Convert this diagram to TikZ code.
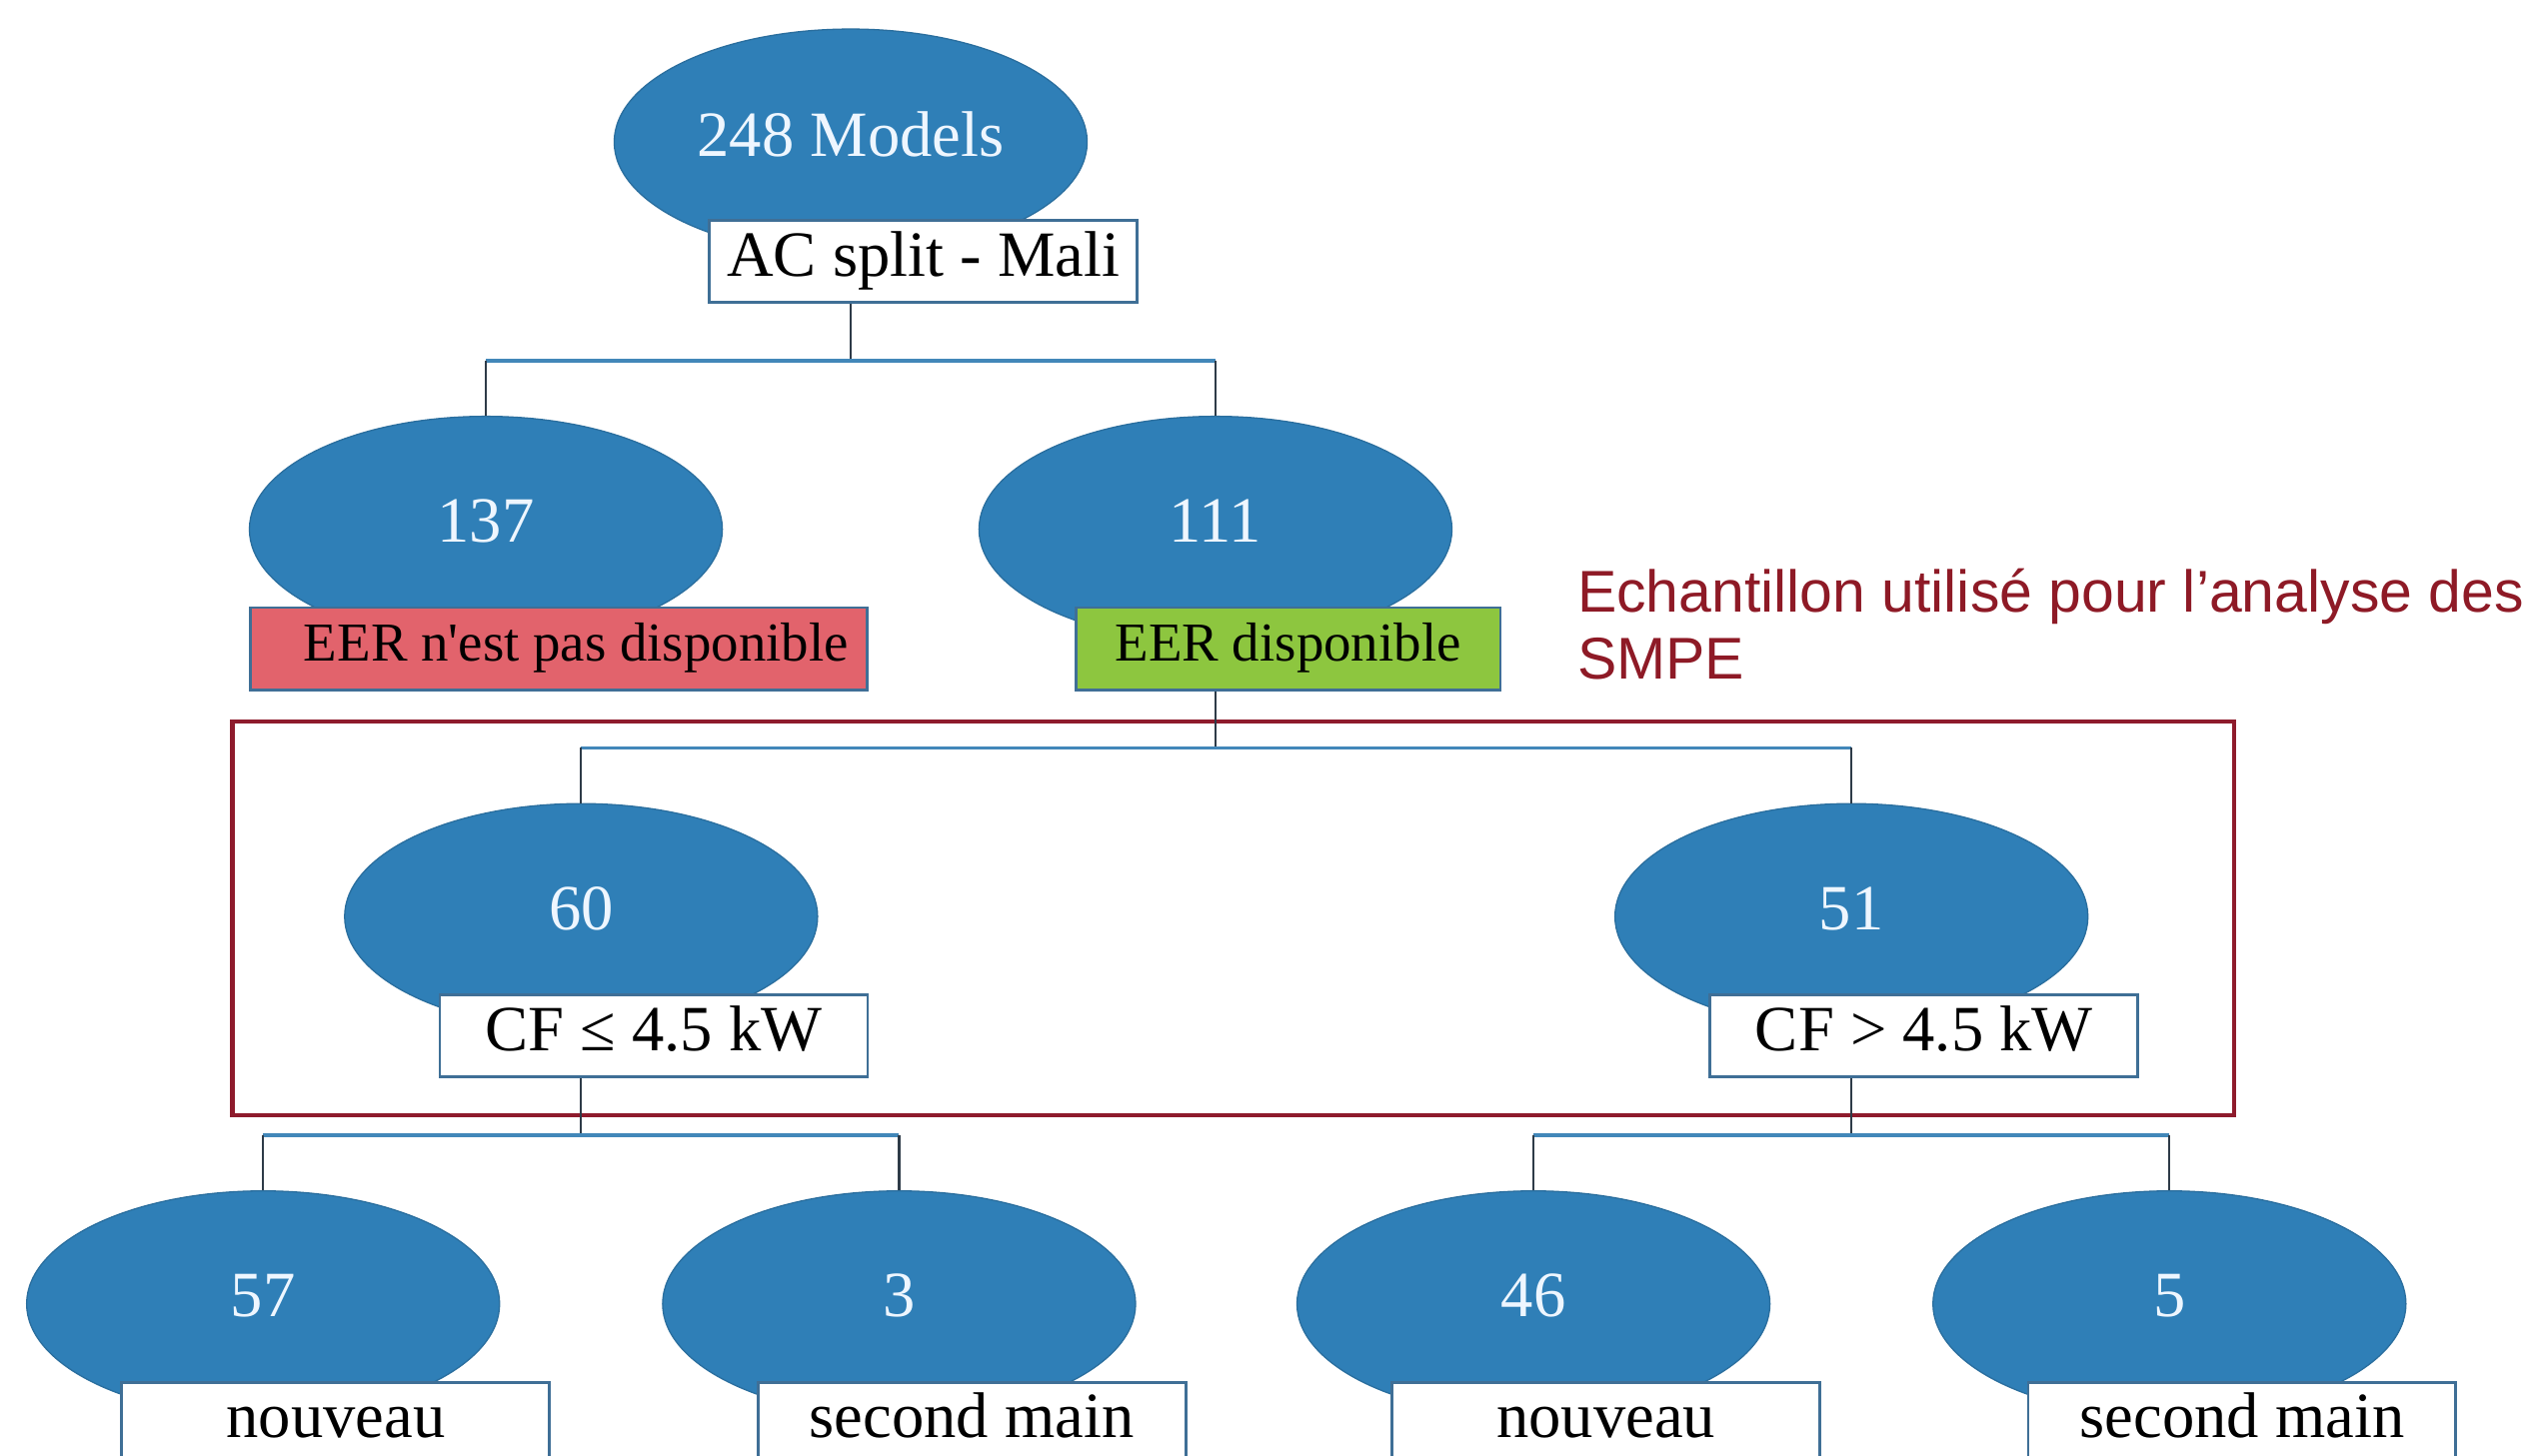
\documentclass[tikz,border=0pt]{standalone}
\usepackage{fontspec}
\setmainfont{Liberation Serif}
\newfontfamily\notefont{Liberation Sans}
\usetikzlibrary{shapes.geometric}

\definecolor{blobblue}{HTML}{2F7FB7}
\definecolor{blobedge}{HTML}{2A6E9E}
\definecolor{numwhite}{HTML}{EEF6FF}
\definecolor{tagedge}{HTML}{3F6F96}
\definecolor{tagred}{HTML}{E2636C}
\definecolor{taggreen}{HTML}{8DC63F}
\definecolor{stemgrey}{HTML}{2E3B48}
\definecolor{barblue}{HTML}{4287B9}
\definecolor{framered}{HTML}{8E1B2C}
\definecolor{notered}{HTML}{8E1A26}

\begin{document}
\begin{tikzpicture}[x=1pt,y=-1pt,
  blob/.style={ellipse, fill=blobblue, draw=blobedge, line width=0.8pt,
    minimum width=293pt, minimum height=140pt, inner sep=0pt},
  num/.style={text=numwhite, inner sep=0pt, font=\fontsize{40}{48}\selectfont},
  tag/.style={rectangle, draw=tagedge, line width=1.8pt, fill=white,
    minimum width=265pt, minimum height=51pt, inner sep=0pt,
    font=\fontsize{40}{48}\selectfont, text height=27pt, text depth=9pt},
  smalltag/.style={font=\fontsize{34}{40}\selectfont, text height=23pt, text depth=8pt},
  stem/.style={draw=stemgrey, line width=1.4pt},
  bar/.style={draw=barblue, line width=2.2pt},
  frame/.style={draw=framered, line width=2.6pt},
  note/.style={text=notered, inner sep=0pt, align=left,
    font=\notefont\fontsize{36.5}{42}\selectfont},
]
\useasboundingbox[fill=white] (0,0) rectangle (1568,902);

% level 0
\node[blob, label={[num, yshift=5pt]center:248 Models}] (a) at (527,88) {};
\node[tag] (ta) at ([shift={(45,74)}]a.center) {AC split - Mali};

% level 1
\node[blob, label={[num, yshift=5pt]center:137}] (b1) at (301,328) {};
\node[tag, smalltag, fill=tagred, minimum width=382pt] (tb1) at ([shift={(45,74)}]b1.center)
  {\hspace{22pt}EER n\textquotesingle est pas disponible};
\node[blob, label={[num, yshift=5pt]center:111}] (b2) at (753,328) {};
\node[tag, smalltag, fill=taggreen, minimum width=263pt] (tb2) at ([shift={(45,74)}]b2.center) {EER disponible};

% level 2
\node[blob, label={[num, yshift=5pt]center:60}] (c1) at (360,568) {};
\node[tag] (tc1) at ([shift={(45,74)}]c1.center) {CF ≤ 4.5 kW};
\node[blob, label={[num, yshift=5pt]center:51}] (c2) at (1147,568) {};
\node[tag] (tc2) at ([shift={(45,74)}]c2.center) {CF > 4.5 kW};

% level 3
\node[blob, label={[num, yshift=5pt]center:57}] (d1) at (163,808) {};
\node[tag] (td1) at ([shift={(45,74)}]d1.center) {nouveau};
\node[blob, label={[num, yshift=5pt]center:3}] (d2) at (557,808) {};
\node[tag] (td2) at ([shift={(45,74)}]d2.center) {second main};
\node[blob, label={[num, yshift=5pt]center:46}] (d3) at (950,808) {};
\node[tag] (td3) at ([shift={(45,74)}]d3.center) {nouveau};
\node[blob, label={[num, yshift=5pt]center:5}] (d4) at (1344,808) {};
\node[tag] (td4) at ([shift={(45,74)}]d4.center) {second main};

% sample frame and its caption
\draw[frame] (144,447) rectangle (1384,691);
\node[note, anchor=north west] (cap) at (977,352) {Echantillon utilisé pour l’analyse des\\SMPE};

% junction points of the tree
\coordinate (j1) at ([yshift=-35pt]a.center |- ta.south);
\coordinate (j2) at ([yshift=-35pt]b2.center |- tb2.south);
\coordinate (j3) at ([yshift=-35pt]c1.center |- tc1.south);
\coordinate (j4) at ([yshift=-35pt]c2.center |- tc2.south);

% connectors
\draw[stem] (a.center |- ta.south) -- (j1);
\draw[bar] (j1 -| b1.north) -- (j1 -| b2.north);
\draw[stem] (j1 -| b1.north) -- (b1.north);
\draw[stem] (j1 -| b2.north) -- (b2.north);

\draw[stem] (b2.center |- tb2.south) -- (j2);
\draw[bar] (j2 -| c1.north) -- (j2 -| c2.north);
\draw[stem] (j2 -| c1.north) -- (c1.north);
\draw[stem] (j2 -| c2.north) -- (c2.north);

\draw[stem] (c1.center |- tc1.south) -- (j3);
\draw[bar] (j3 -| d1.north) -- (j3 -| d2.north);
\draw[stem] (j3 -| d1.north) -- (d1.north);
\draw[stem] (j3 -| d2.north) -- (d2.north);

\draw[stem] (c2.center |- tc2.south) -- (j4);
\draw[bar] (j4 -| d3.north) -- (j4 -| d4.north);
\draw[stem] (j4 -| d3.north) -- (d3.north);
\draw[stem] (j4 -| d4.north) -- (d4.north);
\end{tikzpicture}
\end{document}
